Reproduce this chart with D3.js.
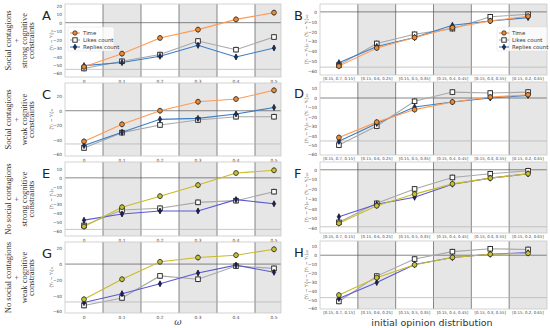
<!DOCTYPE html>
<html>
<head>
<meta charset="utf-8">
<script src="https://cdn.jsdelivr.net/npm/d3@7"></script>
<style>
  body { margin: 0; background: #fff; }
  text { font-family: "DejaVu Sans", sans-serif; }
</style>
</head>
<body>
<svg id="chart" width="550" height="328"></svg>
<script>
// categories
let omega = ["0", "0.1", "0.2", "0.3", "0.4", "0.5"];
let distributions = ["[0.15, 0.7, 0.15]", "[0.15, 0.6, 0.25]", "[0.15, 0.5, 0.35]",
  "[0.15, 0.4, 0.45]", "[0.15, 0.3, 0.55]", "[0.15, 0.2, 0.65]"];
let seriesNames = ["Time", "Likes count", "Replies count"];

// series values, one set per panel
let timeA = [-52, -36.5, -18, -8.2, 3.9, 11.8];
let likesA = [-54, -45.5, -37.6, -21.6, -31.8, -16.9];
let repliesA = [-50.6, -47, -39.6, -26.7, -40.4, -29.8];

let timeB = [-55, -36.6, -26, -16, -9.2, -4.4];
let likesB = [-54, -32, -22.7, -17, -5, -2.4];
let repliesB = [-51.5, -35, -26, -13.6, -9.2, -5.8];

let timeC = [-42, -18.6, 0, 12.3, 16, 28];
let likesC = [-51, -30, -19.5, -12.7, -8.2, -8.2];
let repliesC = [-47.7, -29.5, -11.8, -10.5, -4.5, 4.5];

let timeD = [-42, -25.6, -12.3, -4.2, 1, 3.5];
let likesD = [-50, -29.8, -3.5, 6.3, 5.3, 6.3];
let repliesD = [-46, -27, -9.5, -4.2, 0, 2.8];

let timeE = [-55.3, -33.3, -20.8, -8.2, 5.5, 8.6];
let likesE = [-54, -36.5, -34.5, -27.8, -25.9, -15.7];
let repliesE = [-48, -41, -37.6, -37.6, -24.7, -29.4];

let timeF = [-55, -37, -25, -14.5, -8.6, -4.1];
let likesF = [-54, -34.5, -19.7, -7.9, -4.1, -1];
let repliesF = [-48.3, -35.5, -28.3, -14.8, -8.6, -4.1];

let timeG = [-44.6, -19.2, 2.9, 8.3, 11.3, 18.8];
let likesG = [-52.5, -42.9, -15, -19.2, -2.5, -5.4];
let repliesG = [-48.8, -37.5, -25, -11.3, -1.3, -10.4];

let timeH = [-44.8, -25.3, -10.8, -2.5, 1.1, 2.2];
let likesH = [-52, -23.5, -4.3, 4, 7.2, 6.5];
let repliesH = [-48.7, -30.7, -10.5, -2.5, 1.1, 2.9];

// reference (baseline) values drawn as light horizontal lines
let refValues = [-55, -56, -45.5, -45.6, -58.5, -58.6, -48, -47.7];

// y tick labels per panel
let ticksA = [-60, -50, -40, -30, -20, -10, 0, 10, 20];
let ticksB = [-60, -50, -40, -30, -20, -10, 0];
let ticksC = [-60, -40, -20, 0, 20];
let ticksD = [-60, -50, -40, -30, -20, -10, 0, 10];
let ticksE = [-60, -50, -40, -30, -20, -10, 0, 10];
let ticksF = [-60, -50, -40, -30, -20, -10, 0];
let ticksG = [-60, -40, -20, 0, 20];
let ticksH = [-60, -50, -40, -30, -20, -10, 0, 10];

let rowLabels = [
  ["Social contagions", "+", "strong cognitive", "constraints"],
  ["Social contagions", "+", "weak cognitive", "constraints"],
  ["No social contagions", "+", "strong cognitive", "constraints"],
  ["No social contagions", "+", "weak cognitive", "constraints"]
];

// layout
let rowsL = [{top: 4, bottom: 77}, {top: 83, bottom: 156}, {top: 162, bottom: 236}, {top: 242, bottom: 313}];
let rowsR = [{top: 4, bottom: 75}, {top: 82, bottom: 155}, {top: 162, bottom: 233}, {top: 241, bottom: 309}];
let leftFrame = {x0: 65, x1: 281, bandEnd: 293};
let rightFrame = {x0: 320, x1: 547, bandEnd: 547};

let paletteSocial = {time: "#ff9a52", timeFill: "#f08a30", reply: "#3b7dc4", replyFill: "#1d2f66"};
let paletteNone = {time: "#c9bb2a", timeFill: "#c9c230", reply: "#5a5ad0", replyFill: "#1d1f5c"};

let panels = [
  {letter: "A", time: timeA, likes: likesA, replies: repliesA, ticks: ticksA, dom: [-64, 22], row: 0, side: "L", pal: paletteSocial},
  {letter: "B", time: timeB, likes: likesB, replies: repliesB, ticks: ticksB, dom: [-64, 8], row: 0, side: "R", pal: paletteSocial},
  {letter: "C", time: timeC, likes: likesC, replies: repliesC, ticks: ticksC, dom: [-62, 38], row: 1, side: "L", pal: paletteSocial},
  {letter: "D", time: timeD, likes: likesD, replies: repliesD, ticks: ticksD, dom: [-60.5, 17], row: 1, side: "R", pal: paletteSocial},
  {letter: "E", time: timeE, likes: likesE, replies: repliesE, ticks: ticksE, dom: [-66, 18], row: 2, side: "L", pal: paletteNone},
  {letter: "F", time: timeF, likes: likesF, replies: repliesF, ticks: ticksF, dom: [-65, 8], row: 2, side: "R", pal: paletteNone},
  {letter: "G", time: timeG, likes: likesG, replies: repliesG, ticks: ticksG, dom: [-62, 28], row: 3, side: "L", pal: paletteNone},
  {letter: "H", time: timeH, likes: likesH, replies: repliesH, ticks: ticksH, dom: [-60.5, 16], row: 3, side: "R", pal: paletteNone}
];

let svg = d3.select("#chart");

function drawPanel(p, i) {
  let fr = p.side === "L" ? leftFrame : rightFrame;
  let cats = p.side === "L" ? omega : distributions;
  let r = p.side === "L" ? rowsL[p.row] : rowsR[p.row];
  let x = d3.scaleBand().domain(cats).range([fr.x0, fr.bandEnd]);
  let y = d3.scaleLinear().domain(p.dom).range([r.bottom, r.top]);
  let g = svg.append("g");

  let clipId = "clip" + i;
  g.append("clipPath").attr("id", clipId).append("rect")
    .attr("x", fr.x0).attr("y", r.top).attr("width", fr.x1 - fr.x0).attr("height", r.bottom - r.top);

  let inner = g.append("g").attr("clip-path", "url(#" + clipId + ")");

  // alternating band shading
  inner.selectAll(".band").data(cats).enter().append("rect")
    .attr("x", d => x(d)).attr("y", r.top)
    .attr("width", x.bandwidth()).attr("height", r.bottom - r.top)
    .attr("fill", (d, k) => k % 2 ? "#e6e6e6" : "#fff");

  // band separators
  inner.selectAll(".sep").data(cats.slice(1)).enter().append("line")
    .attr("x1", d => x(d)).attr("x2", d => x(d))
    .attr("y1", r.top).attr("y2", r.bottom)
    .attr("stroke", "#6a6a6a").attr("stroke-width", 0.8);

  // zero line and reference line
  inner.append("line").attr("x1", fr.x0).attr("x2", fr.x1)
    .attr("y1", y(0)).attr("y2", y(0)).attr("stroke", "#555").attr("stroke-width", 0.7);
  inner.append("line").attr("x1", fr.x0).attr("x2", fr.x1)
    .attr("y1", y(refValues[i])).attr("y2", y(refValues[i])).attr("stroke", "#b0b0b0").attr("stroke-width", 0.7);

  // frame
  g.append("rect").attr("x", fr.x0).attr("y", r.top)
    .attr("width", fr.x1 - fr.x0).attr("height", r.bottom - r.top)
    .attr("fill", "none").attr("stroke", "#c8c8c8").attr("stroke-width", 0.8);

  // y axis
  let yAxis = d3.axisLeft(y).tickValues(p.ticks.filter(t => t >= p.dom[0] - 0.6)).tickSize(0).tickPadding(3);
  let ya = g.append("g").attr("transform", "translate(" + fr.x0 + ",0)").call(yAxis);
  ya.select(".domain").remove();
  ya.selectAll("text").attr("font-size", 4.3).attr("fill", "#444");

  // x axis
  let xAxis = d3.axisBottom(x).tickSize(0).tickPadding(2.5);
  let xa = g.append("g").attr("transform", "translate(0," + r.bottom + ")").call(xAxis);
  xa.select(".domain").remove();
  xa.selectAll("text").attr("font-size", p.side === "L" ? 4.3 : 3.9).attr("fill", "#444");

  let cx = d => x(d) + x.bandwidth() / 2;
  let line = d3.line().x((d, k) => cx(cats[k])).y(d => y(d));

  let series = [
    {vals: p.likes, color: "#a8a8a8", kind: "sq"},
    {vals: p.replies, color: p.pal.reply, kind: "dia"},
    {vals: p.time, color: p.pal.time, kind: "circ"}
  ];
  series.forEach(s => {
    g.append("path").datum(s.vals).attr("d", line)
      .attr("fill", "none").attr("stroke", s.color).attr("stroke-width", 1.1);
  });
  series.forEach(s => {
    let pts = g.selectAll(null).data(s.vals).enter().append("g")
      .attr("transform", (d, k) => "translate(" + cx(cats[k]) + "," + y(d) + ")");
    pts.append("line").attr("y1", -3).attr("y2", 3).attr("stroke", "#111").attr("stroke-width", 0.7);
    if (s.kind === "circ") {
      pts.append("circle").attr("r", 2.4).attr("fill", p.pal.timeFill).attr("stroke", "#2a2a2a").attr("stroke-width", 0.8);
    } else if (s.kind === "sq") {
      pts.append("rect").attr("x", -2.3).attr("y", -2.3).attr("width", 4.6).attr("height", 4.6)
        .attr("fill", "#fff").attr("stroke", "#222").attr("stroke-width", 0.9);
    } else {
      pts.append("path").attr("d", "M0,-3L1.8,0L0,3L-1.8,0Z").attr("fill", p.pal.replyFill)
        .attr("stroke", "#111").attr("stroke-width", 0.5);
    }
  });

  // y label
  let ly = (r.top + r.bottom) / 2;
  let lx = p.side === "L" ? 53 : 308;
  let lbl = p.side === "L" ? "⟨Yₜ − Yₜ⟩₀" : "⟨Yₜ − Yₜ⟩₀ − ⟨Yₜ − Yₜ⟩ₛ₀";
  g.append("text").attr("transform", "translate(" + lx + "," + ly + ") rotate(-90)")
    .attr("text-anchor", "middle").attr("font-size", 4.6).attr("fill", "#444").text(lbl);

  // panel letter
  g.append("text").attr("x", p.side === "L" ? 42 : 294).attr("y", r.top + 16)
    .attr("font-size", 13).attr("fill", "#222").text(p.letter);

  // legend for the first row
  if (p.row === 0) {
    let lg = g.append("g").attr("transform", "translate(" + (p.side === "L" ? 68 : 497) + "," + 27 + ")");
    lg.append("rect").attr("width", p.side === "L" ? 46 : 50).attr("height", 24).attr("rx", 1.5)
      .attr("fill", "#fff").attr("fill-opacity", 0.8).attr("stroke", "#ddd").attr("stroke-width", 0.5);
    let cols = [p.pal.time, "#a8a8a8", p.pal.reply];
    seriesNames.forEach((n, k) => {
      let yy = 6 + k * 7;
      lg.append("line").attr("x1", 2).attr("x2", 12).attr("y1", yy).attr("y2", yy)
        .attr("stroke", cols[k]).attr("stroke-width", 1.1);
      if (k === 0) lg.append("circle").attr("cx", 7).attr("cy", yy).attr("r", 2.2)
        .attr("fill", p.pal.timeFill).attr("stroke", "#2a2a2a").attr("stroke-width", 0.8);
      if (k === 1) lg.append("rect").attr("x", 4.8).attr("y", yy - 2.2).attr("width", 4.4).attr("height", 4.4)
        .attr("fill", "#fff").attr("stroke", "#222").attr("stroke-width", 0.9);
      if (k === 2) lg.append("path").attr("d", "M7," + (yy - 3) + "L8.8," + yy + "L7," + (yy + 3) + "L5.2," + yy + "Z")
        .attr("fill", p.pal.replyFill).attr("stroke", "#111").attr("stroke-width", 0.5);
      lg.append("text").attr("x", 15).attr("y", yy + 1.8).attr("font-size", 5.4).attr("fill", "#333").text(n);
    });
  }
}

panels.forEach(drawPanel);

// row labels
rowLabels.forEach((lines, k) => {
  let cy = (rowsL[k].top + rowsL[k].bottom) / 2;
  let xs = [7.5, 16, 23.5, 31];
  lines.forEach((t, j) => {
    svg.append("text").attr("transform", "translate(" + (xs[j] + 3) + "," + cy + ") rotate(-90)")
      .attr("text-anchor", "middle")
      .style("font-family", "'Liberation Serif', serif")
      .attr("font-size", 8.5).attr("fill", "#333").text(t);
  });
});

// axis titles
svg.append("text").attr("x", 178).attr("y", 325).attr("text-anchor", "middle")
  .style("font-family", "'DejaVu Serif', serif").attr("font-style", "italic")
  .attr("font-size", 9).attr("fill", "#333").text("ω");
svg.append("text").attr("x", 432).attr("y", 326).attr("text-anchor", "middle")
  .attr("font-size", 9.5).attr("fill", "#333").text("initial opinion distribution");
</script>
</body>
</html>
